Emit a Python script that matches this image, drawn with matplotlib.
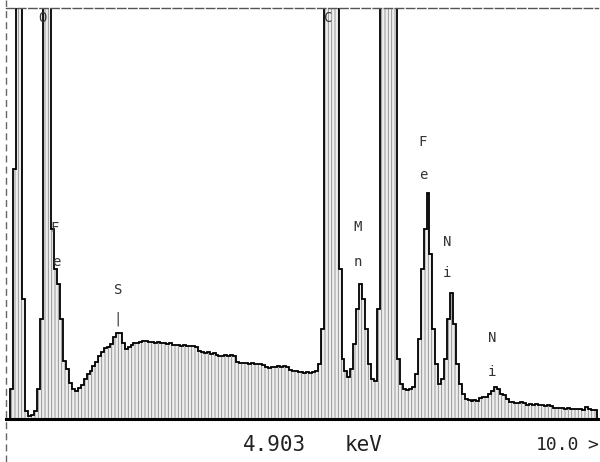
import numpy as np
import matplotlib
matplotlib.use("Agg")
import matplotlib.pyplot as plt
from matplotlib.lines import Line2D

# EDS spectrum, 0.05 keV channels, counts (clipped peaks run off the top)
channel_width = 0.05
counts = [
    30, 250, 600, 600, 120, 8, 3, 4, 8, 30,           # 0.00 - 0.45
    100, 600, 600, 600, 190, 150, 135, 100, 58, 50,    # 0.50 - 0.95
    36, 30, 28, 31, 34, 40, 45, 48, 53, 57,            # 1.00 - 1.45
    63, 67, 71, 72, 75, 82, 86, 86, 76, 70,            # 1.50 - 1.95
    72, 74, 76, 76, 77, 78, 78, 77, 77, 76,            # 2.00 - 2.45
    77, 76, 76, 75, 76, 74, 74, 74, 73, 74,            # 2.50 - 2.95
    73, 73, 73, 72, 68, 67, 66, 67, 65, 66,            # 3.00 - 3.45
    64, 63, 63, 64, 63, 64, 63, 57, 56, 56,            # 3.50 - 3.95
    56, 55, 56, 55, 55, 55, 54, 52, 51, 52,            # 4.00 - 4.45
    52, 53, 52, 53, 52, 49, 48, 48, 47, 47,            # 4.50 - 4.95
    46, 47, 46, 47, 48, 55, 90, 600, 600, 600,         # 5.00 - 5.45
    600, 600, 150, 60, 48, 42, 50, 75, 110, 135,       # 5.50 - 5.95
    120, 90, 55, 40, 38, 110, 600, 600, 600, 600,      # 6.00 - 6.45
    600, 600, 60, 35, 30, 29, 30, 32, 45, 80,          # 6.50 - 6.95
    150, 190, 226, 165, 90, 55, 35, 40, 60, 100,       # 7.00 - 7.45
    126, 95, 55, 35, 25, 20, 19, 18, 19, 18,           # 7.50 - 7.95
    21, 22, 22, 25, 28, 32, 30, 25, 24, 20,            # 8.00 - 8.45
    17, 17, 16, 16, 17, 16, 14, 15, 14, 15,            # 8.50 - 8.95
    14, 14, 13, 14, 13, 11, 11, 11, 11, 10,            # 9.00 - 9.45
    11, 10, 10, 10, 10, 9, 12, 10, 9, 9,               # 9.50 - 9.95
]

# element labels: (text, energy keV, height)
labels = [
    ("O", 0.53, 401), ("C", 5.39, 401),
    ("F", 0.73, 191), ("e", 0.75, 157),
    ("S", 1.81, 129), ("|", 1.81, 100),
    ("M", 5.90, 192), ("n", 5.90, 157),
    ("F", 7.01, 277), ("e", 7.02, 244),
    ("N", 7.42, 177), ("i", 7.42, 146),
    ("N", 8.19, 81), ("i", 8.19, 47),
]
cursor_text = "4.903"
unit_text = "keV"
range_text = "10.0"

plt.rcParams['hatch.linewidth'] = 0.6
fig = plt.figure(figsize=(6, 4.62), dpi=100)
ax = fig.add_axes([6 / 600, 43 / 462, 592 / 600, 411 / 462])

edges = np.arange(len(counts) + 1) * channel_width - channel_width / 2
ax.stairs(counts, edges, fill=True, facecolor='#eeeeee', edgecolor='#8a8a8a',
          hatch='|||||', linewidth=0)
ax.stairs(counts, edges, color='black', linewidth=1.3)

for txt, e, h in labels:
    ax.text(e, h, txt, ha='center', va='center', fontsize=10,
            family='DejaVu Sans Mono', color='#333333')

ax.set_xlim(-0.1, 10.0)
ax.set_ylim(0, 411)
ax.set_xticks([])
ax.set_yticks([])
for side in ['left', 'right']:
    ax.spines[side].set_visible(False)
ax.spines['top'].set_linestyle((0, (6, 2)))
ax.spines['top'].set_color('#555555')
ax.spines['top'].set_linewidth(1)
ax.spines['bottom'].set_linestyle((0, (3, 1)))
ax.spines['bottom'].set_color('black')
ax.spines['bottom'].set_linewidth(2.2)

# left scale line running past the baseline
fig.add_artist(Line2D([6 / 600, 6 / 600], [0, 1], color='#666666',
                      linewidth=1, linestyle=(0, (5, 3))))

text_y = 1 - 445 / 462
fig.text(243 / 600, text_y, cursor_text, fontsize=15,
         family='DejaVu Sans Mono', va='center', color='#222222')
fig.text(345 / 600, text_y, unit_text, fontsize=15,
         family='DejaVu Sans Mono', va='center', color='#222222')
fig.text(536 / 600, text_y, range_text, fontsize=13,
         family='DejaVu Sans Mono', va='center', color='#222222')
fig.text(587 / 600, text_y, ">", fontsize=13,
         family='DejaVu Sans Mono', va='center', color='#222222')

fig.savefig("out.png", dpi=100)
